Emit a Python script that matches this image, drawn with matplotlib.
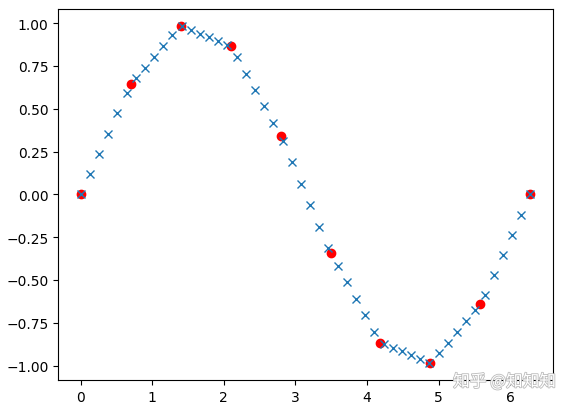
"""Sample points of sin(x) and their linear interpolation."""

import matplotlib
matplotlib.use("Agg")
import matplotlib.pyplot as plt
import matplotlib.patheffects as pe

# known samples
x_known = [0.0, 0.6981, 1.3963, 2.0944, 2.7925, 3.4907, 4.1888, 4.8869, 5.5851, 6.2832]
y_known = [0.0, 0.6428, 0.9848, 0.8660, 0.3420, -0.3420, -0.8660, -0.9848, -0.6428, 0.0]

# interpolated points
x_new = [0.0, 0.1282, 0.2565, 0.3847, 0.5129, 0.6411, 0.7694, 0.8976, 1.0258, 1.1541,
         1.2823, 1.4105, 1.5387, 1.6670, 1.7952, 1.9234, 2.0517, 2.1799, 2.3081, 2.4363,
         2.5646, 2.6928, 2.8210, 2.9493, 3.0775, 3.2057, 3.3339, 3.4622, 3.5904, 3.7186,
         3.8468, 3.9751, 4.1033, 4.2315, 4.3598, 4.4880, 4.6162, 4.7444, 4.8727, 5.0009,
         5.1291, 5.2574, 5.3856, 5.5138, 5.6420, 5.7703, 5.8985, 6.0267, 6.1550, 6.2832]
y_new = [0.0, 0.1181, 0.2361, 0.3542, 0.4723, 0.5903, 0.6777, 0.7405, 0.8033, 0.8662,
         0.9290, 0.9824, 0.9606, 0.9387, 0.9169, 0.8951, 0.8733, 0.8018, 0.7056, 0.6093,
         0.5131, 0.4169, 0.3141, 0.1884, 0.0628, -0.0628, -0.1884, -0.3141, -0.4169, -0.5131,
         -0.6093, -0.7056, -0.8018, -0.8733, -0.8951, -0.9169, -0.9387, -0.9606, -0.9824, -0.9290,
         -0.8662, -0.8033, -0.7405, -0.6777, -0.5903, -0.4723, -0.3542, -0.2361, -0.1181, 0.0]

fig = plt.figure(figsize=(5.7, 4.1), dpi=100)
ax = fig.add_axes([0.102, 0.071, 0.868, 0.905])
ax.plot(x_known, y_known, "ro")
ax.plot(x_new, y_new, "x")

# watermark
fig.text(0.885, 0.066, "知乎 @知知知", ha="center", va="center", fontsize=12,
         color="white", family=["Noto Sans CJK SC", "DejaVu Sans"],
         path_effects=[pe.withStroke(linewidth=1.2, foreground="#bbbbbb")])

fig.savefig("out.png")
